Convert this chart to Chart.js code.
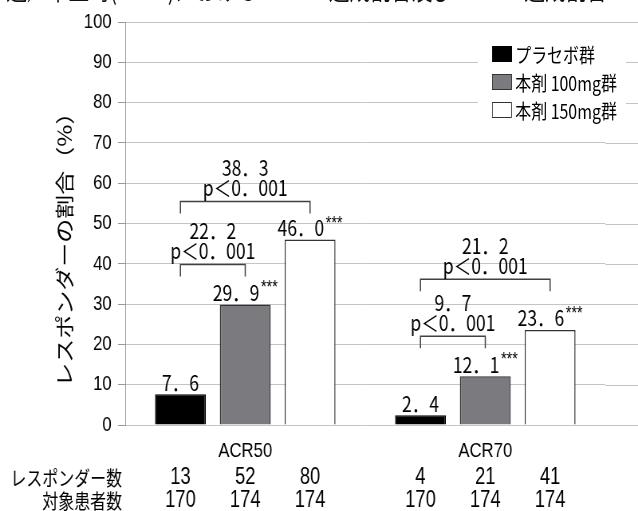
<!DOCTYPE html>
<html lang="ja">
<head>
<meta charset="utf-8">
<script src="https://cdn.jsdelivr.net/npm/chart.js@4.4.1/dist/chart.umd.min.js"></script>
<style>
    html, body { margin: 0; padding: 0; background: #fff; overflow: hidden; }
    /* le graphique d'origine est légèrement écrasé en largeur */
    #page { position: relative; width: 800px; height: 511px; transform: scaleX(0.7975); transform-origin: 0 0; }
    #titre { position: absolute; left: -21px; top: -30px; font: 26px 'Noto Sans CJK JP', sans-serif; white-space: nowrap; color: #111; }
    #zone { position: absolute; left: 0; top: 0; width: 800px; height: 511px; }
    #legende { position: absolute; left: 599px; top: 40px; width: 186px; height: 80px; background: #fff; font: 20px 'Noto Sans CJK JP', sans-serif; color: #000; }
    .item { position: absolute; left: 18px; height: 28px; display: flex; align-items: center; white-space: nowrap; }
    .carre { width: 25px; height: 16px; margin-right: 4px; box-sizing: border-box; }
</style>
</head>
<body>
<div id="page">
    <div id="titre">12週／中止時(LOCF)における ACR50 達成割合及び ACR70 達成割合</div>
    <div id="zone"><canvas id="canvas"></canvas></div>
    <div id="legende"></div>
</div>
<script>
// Données
const groupes = ['ACR50', 'ACR70'];
const series = ['プラセボ群', '本剤 100mg群', '本剤 150mg群'];
const placebo = [7.6, 2.4];
const dose100 = [29.9, 12.1];
const dose150 = [46.0, 23.6];
const repondeursPlacebo = [13, 4];
const repondeurs100 = [52, 21];
const repondeurs150 = [80, 41];
const patientsPlacebo = [170, 170];
const patients100 = [174, 174];
const patients150 = [174, 174];
const diff100 = ['22.2', '9.7'];
const diff150 = ['38.3', '21.2'];
const pValeurs = ['p<0.001', 'p<0.001'];
const etoiles100 = ['***', '***'];
const etoiles150 = ['***', '***'];
const yMin = 0, yMax = 100, yPas = 10;

const couleurs = ['#000000', '#7b7b7f', '#ffffff'];
const bordures = ['#000000', '#333333', '#333333'];
const policeNum = "22px 'Liberation Sans Narrow', 'Noto Sans CJK JP', sans-serif";
const policeJp = "20px 'Noto Sans CJK JP', sans-serif";
const policeTableau = "23px 'Liberation Sans Narrow', 'Liberation Sans', sans-serif";
const policeEtoiles = "18px 'Liberation Sans', sans-serif";

// "7.6" -> "7．6", "p<0.001" -> "p＜0．001"
function pleineLargeur(texte) {
    return String(texte).replace('.', '．').replace('<', '＜');
}

// Légende en HTML, posée dans la zone du graphique
const legende = document.getElementById('legende');
series.forEach(function (nom, i) {
    const item = document.createElement('div');
    item.className = 'item';
    item.style.top = (i * 28) + 'px';
    const carre = document.createElement('span');
    carre.className = 'carre';
    carre.style.background = couleurs[i];
    carre.style.border = i === 0 ? 'none' : '1.5px solid ' + bordures[i];
    item.appendChild(carre);
    item.appendChild(document.createTextNode(nom));
    legende.appendChild(item);
});

function crochet(ctx, xa, xb, haut, diff, p) {
    ctx.beginPath();
    ctx.moveTo(xa, haut + 12);
    ctx.lineTo(xa, haut);
    ctx.lineTo(xb, haut);
    ctx.lineTo(xb, haut + 12);
    ctx.stroke();
    const cx = (xa + xb) / 2;
    ctx.textAlign = 'center';
    ctx.textBaseline = 'middle';
    ctx.font = policeNum;
    ctx.fillText(pleineLargeur(diff), cx, haut - 34);
    ctx.fillText(pleineLargeur(p), cx, haut - 14);
}

const annotations = {
    id: 'annotations',
    beforeDatasetsDraw(chart) {
        // les lignes de grille continuent jusqu'au bord droit
        const {ctx, chartArea, scales: {y}} = chart;
        ctx.save();
        ctx.strokeStyle = '#c4c4c4';
        ctx.lineWidth = 1;
        y.ticks.forEach(function (t) {
            const py = Math.round(y.getPixelForValue(t.value)) + 0.5;
            ctx.beginPath();
            ctx.moveTo(chartArea.right, py);
            ctx.lineTo(chart.width, py);
            ctx.stroke();
        });
        ctx.restore();
    },
    afterDatasetsDraw(chart) {
        const ctx = chart.ctx;
        const y = chart.scales.y;
        const metas = [0, 1, 2].map(i => chart.getDatasetMeta(i));
        const valeurs = [placebo, dose100, dose150];
        const etoiles = [[], etoiles100, etoiles150];
        const repondeurs = [repondeursPlacebo, repondeurs100, repondeurs150];
        const patients = [patientsPlacebo, patients100, patients150];
        ctx.save();
        ctx.fillStyle = '#000';
        ctx.strokeStyle = '#404040';
        ctx.lineWidth = 1.5;

        for (let g = 0; g < groupes.length; g++) {
            // valeurs au-dessus des barres
            for (let s = 0; s < 3; s++) {
                const barre = metas[s].data[g];
                const texte = pleineLargeur(valeurs[s][g].toFixed(1));
                const etoile = etoiles[s][g] || '';
                ctx.font = policeNum;
                const wNum = ctx.measureText(texte).width;
                ctx.font = policeEtoiles;
                const wEt = etoile ? ctx.measureText(etoile).width + 2 : 0;
                const x0 = barre.x - (wNum + wEt) / 2;
                ctx.textAlign = 'left';
                ctx.textBaseline = 'middle';
                ctx.font = policeNum;
                ctx.fillText(texte, x0, barre.y - 12);
                if (etoile) {
                    ctx.font = policeEtoiles;
                    ctx.fillText(etoile, x0 + wNum + 2, barre.y - 16);
                }
            }

            // crochets de comparaison
            const xP = metas[0].data[g].x;
            const x1 = metas[1].data[g].x;
            const x2 = metas[2].data[g].x;
            const hautInt = Math.min(metas[0].data[g].y, metas[1].data[g].y) - 40;
            crochet(ctx, xP, x1, hautInt, diff100[g], pValeurs[g]);
            const hautExt = Math.min(metas[2].data[g].y - 38, hautInt - 57);
            crochet(ctx, xP, x2, hautExt, diff150[g], pValeurs[g]);

            // tableau sous l'axe
            ctx.textAlign = 'center';
            ctx.textBaseline = 'middle';
            ctx.font = policeTableau;
            for (let s = 0; s < 3; s++) {
                const bx = metas[s].data[g].x;
                ctx.fillText(String(repondeurs[s][g]), bx, 478);
                ctx.fillText(String(patients[s][g]), bx, 501);
            }
        }

        ctx.textAlign = 'right';
        ctx.font = policeJp;
        ctx.fillText('レスポンダー数', 153, 478);
        ctx.fillText('対象患者数', 153, 501);

        // titre de l'axe y
        ctx.translate(81, y.getPixelForValue(45));
        ctx.rotate(-Math.PI / 2);
        ctx.textAlign = 'center';
        ctx.font = "24px 'Noto Sans CJK JP', sans-serif";
        ctx.fillText('レスポンダーの割合（%）', 0, 0);
        ctx.restore();
    }
};

const data = {
    labels: groupes,
    datasets: [
        { label: series[0], data: placebo, backgroundColor: couleurs[0], borderColor: bordures[0], borderWidth: 1.5 },
        { label: series[1], data: dose100, backgroundColor: couleurs[1], borderColor: bordures[1], borderWidth: 1.5 },
        { label: series[2], data: dose150, backgroundColor: couleurs[2], borderColor: bordures[2], borderWidth: 1.5 }
    ]
};

const config = {
    type: 'bar',
    data: data,
    options: {
        responsive: true,
        maintainAspectRatio: false,
        animation: false,
        categoryPercentage: 0.81,
        barPercentage: 0.785,
        layout: { padding: { top: 22, right: 41, left: 0, bottom: 0 } },
        plugins: {
            legend: { display: false },
            tooltip: { enabled: false }
        },
        scales: {
            x: {
                grid: { display: false, drawTicks: false },
                border: { display: false },
                ticks: { padding: 14, color: '#000', font: { family: "'Liberation Sans Narrow', 'Liberation Sans'", size: 21 } },
                afterFit: function (s) { s.height = 86; }
            },
            y: {
                min: yMin,
                max: yMax,
                ticks: { stepSize: yPas, padding: 8, color: '#000', font: { family: "'Liberation Sans Narrow', 'Liberation Sans'", size: 21 } },
                grid: { color: '#c4c4c4', tickLength: 9, tickColor: '#999' },
                border: { color: '#999' },
                afterFit: function (s) { s.width = 157; }
            }
        }
    },
    plugins: [annotations]
};

new Chart(document.getElementById('canvas'), config);
</script>
</body>
</html>
